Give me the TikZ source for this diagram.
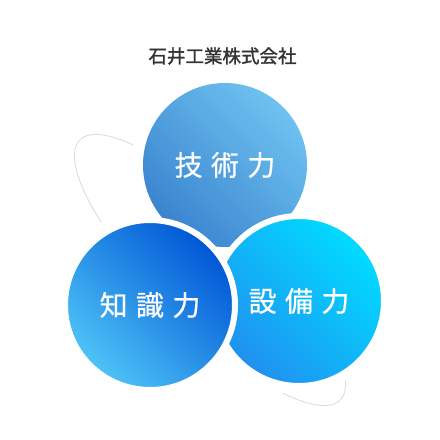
\documentclass[tikz,border=0pt]{standalone}
\usepackage{fontspec}
\newfontfamily\jpfont[FakeBold=1.4]{Noto Sans CJK JP}
\newfontfamily\jpwide[LetterSpace=30,FakeBold=0.6]{Noto Sans CJK JP}
\definecolor{titlegray}{HTML}{333333}
\definecolor{orbitgray}{HTML}{DADADA}
\definecolor{gijutsuLo}{HTML}{3A84CF}
\definecolor{gijutsuHi}{HTML}{6EC2F0}
\definecolor{chishikiLo}{HTML}{4EC4F6}
\definecolor{chishikiHi}{HTML}{0056D6}
\definecolor{setsubiLo}{HTML}{2090F0}
\definecolor{setsubiHi}{HTML}{00DCFF}

\begin{document}
\begin{tikzpicture}[x=1pt,y=1pt,
    ball/.style={circle,inner sep=0pt,minimum size=164pt,text=white,
      font=\jpwide\fontsize{28}{28}\selectfont},
    ringed/.style={ball,draw=white,line width=6pt,minimum size=170pt},
    tint/.style 2 args={bottom color=#1,top color=#2,shading angle=-45}]
  \useasboundingbox[fill=white] (0,0) rectangle (440,-440);

  % orbit behind the circles
  \begin{scope}[shift={(210,-270)},rotate=-45,orbitgray,line width=0.8pt]
    \draw (141:184 and 54) arc[start angle=141,end angle=233,x radius=184,y radius=54];
    \draw (-41:184 and 54) arc[start angle=-41,end angle=19,x radius=184,y radius=54];
  \end{scope}

  \node[font=\jpfont\fontsize{18.5}{18.5}\selectfont,text=titlegray] (title) at (222.5,-56) {石井工業株式会社};

  \node[ball,tint={gijutsuLo}{gijutsuHi}] (gijutsu) at (225,-165) {技術力};
  \node[ringed,tint={setsubiLo}{setsubiHi}] (setsubi) at (299,-301) {設備力};
  \node[ringed,tint={chishikiLo}{chishikiHi}] (chishiki) at (150,-305) {知識力};
\end{tikzpicture}
\end{document}
